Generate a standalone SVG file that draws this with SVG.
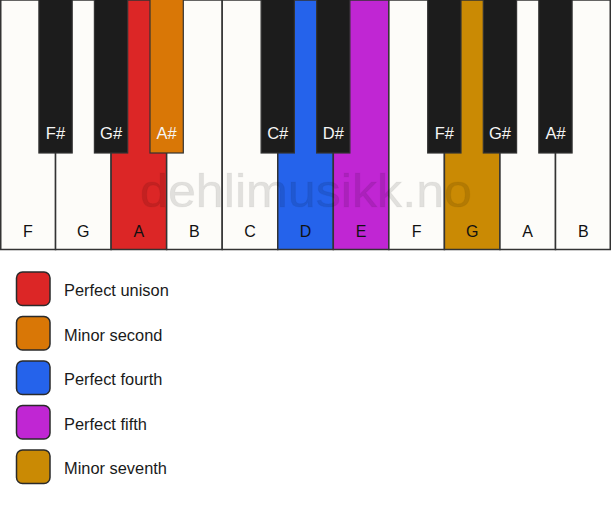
<svg xmlns="http://www.w3.org/2000/svg" width="611" height="506" viewBox="0 0 611 506">
<style>
.w{fill:#fdfcf9;stroke:#333;stroke-width:1.5}
.b{fill:#1c1c1c;stroke:#333;stroke-width:1.2}
.wl{font-family:"Liberation Sans",Arial,sans-serif;font-size:16px;fill:#111;text-anchor:middle}
.bl{font-family:"Liberation Sans",Arial,sans-serif;font-size:16.5px;fill:#f5f5f5;text-anchor:middle}
.lg{stroke:#2a2a2a;stroke-width:1.5}
.lt{font-family:"Liberation Sans",Arial,sans-serif;font-size:16.4px;fill:#1a1a1a}
.wm{font-family:"Liberation Sans",Arial,sans-serif;font-size:46px;fill:#000;fill-opacity:0.11;stroke:#000;stroke-opacity:0.04;stroke-width:1;text-anchor:middle}
</style>
<rect width="611" height="506" fill="#ffffff"/>
<g id="white-keys">
<g id="key-F1"><rect class="w" x="0.75" y="0" width="54.8" height="249.5"/><text class="wl" x="27.8" y="237">F</text></g>
<g id="key-G1"><rect class="w" x="55.55" y="0" width="55.55" height="249.5"/><text class="wl" x="83.3" y="237">G</text></g>
<g id="key-A1"><rect class="w" x="111.1" y="0" width="55.55" height="249.5" style="fill:#dc2626"/><text class="wl" x="138.9" y="237">A</text></g>
<g id="key-B1"><rect class="w" x="166.65" y="0" width="55.55" height="249.5"/><text class="wl" x="194.4" y="237">B</text></g>
<g id="key-C"><rect class="w" x="222.2" y="0" width="55.55" height="249.5"/><text class="wl" x="250" y="237">C</text></g>
<g id="key-D"><rect class="w" x="277.75" y="0" width="55.55" height="249.5" style="fill:#2563eb"/><text class="wl" x="305.5" y="237">D</text></g>
<g id="key-E"><rect class="w" x="333.3" y="0" width="55.55" height="249.5" style="fill:#c026d3"/><text class="wl" x="361.1" y="237">E</text></g>
<g id="key-F2"><rect class="w" x="388.85" y="0" width="55.55" height="249.5"/><text class="wl" x="416.6" y="237">F</text></g>
<g id="key-G2"><rect class="w" x="444.4" y="0" width="55.55" height="249.5" style="fill:#ca8a04"/><text class="wl" x="472.2" y="237">G</text></g>
<g id="key-A2"><rect class="w" x="499.95" y="0" width="55.55" height="249.5"/><text class="wl" x="527.7" y="237">A</text></g>
<g id="key-B2"><rect class="w" x="555.5" y="0" width="54.75" height="249.5"/><text class="wl" x="583.3" y="237">B</text></g>
</g>
<text class="wm" x="306" y="207" textLength="332" lengthAdjust="spacingAndGlyphs">dehlimusikk.no</text>
<g id="black-keys">
<g id="key-Fs1"><rect class="b" x="38.9" y="-1" width="33.3" height="154"/><text class="bl" x="55.5" y="139">F#</text></g>
<g id="key-Gs1"><rect class="b" x="94.4" y="-1" width="33.3" height="154"/><text class="bl" x="111.1" y="139">G#</text></g>
<g id="key-As1"><rect class="b" x="150" y="-1" width="33.3" height="154" style="fill:#d97706"/><text class="bl" x="166.6" y="139">A#</text></g>
<g id="key-Cs"><rect class="b" x="261.1" y="-1" width="33.3" height="154"/><text class="bl" x="277.7" y="139">C#</text></g>
<g id="key-Ds"><rect class="b" x="316.6" y="-1" width="33.3" height="154"/><text class="bl" x="333.3" y="139">D#</text></g>
<g id="key-Fs2"><rect class="b" x="427.7" y="-1" width="33.3" height="154"/><text class="bl" x="444.4" y="139">F#</text></g>
<g id="key-Gs2"><rect class="b" x="483.3" y="-1" width="33.3" height="154"/><text class="bl" x="499.9" y="139">G#</text></g>
<g id="key-As2"><rect class="b" x="538.8" y="-1" width="33.3" height="154"/><text class="bl" x="555.5" y="139">A#</text></g>
</g>
<g id="legend">
<g id="legend-unison"><rect class="lg" x="16.5" y="272" width="33.5" height="33.5" rx="6" fill="#dc2626"/><text class="lt" x="64" y="296">Perfect unison</text></g>
<g id="legend-minor-second"><rect class="lg" x="16.5" y="316.5" width="33.5" height="33.5" rx="6" fill="#d97706"/><text class="lt" x="64" y="340.5">Minor second</text></g>
<g id="legend-fourth"><rect class="lg" x="16.5" y="361" width="33.5" height="33.5" rx="6" fill="#2563eb"/><text class="lt" x="64" y="385">Perfect fourth</text></g>
<g id="legend-fifth"><rect class="lg" x="16.5" y="405.5" width="33.5" height="33.5" rx="6" fill="#c026d3"/><text class="lt" x="64" y="429.5">Perfect fifth</text></g>
<g id="legend-minor-seventh"><rect class="lg" x="16.5" y="450" width="33.5" height="33.5" rx="6" fill="#ca8a04"/><text class="lt" x="64" y="474">Minor seventh</text></g>
</g>
<g id="connectors"/>
</svg>
